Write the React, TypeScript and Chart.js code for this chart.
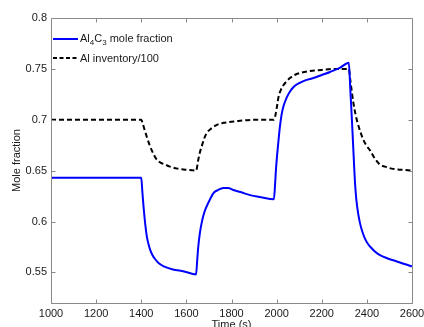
import React, { useEffect, useRef } from "react";
import { Chart, registerables } from "chart.js";

Chart.register(...registerables);

// Al4C3 mole fraction (blue solid)
const blueTimes = [
  1000, 1400, 1405, 1410, 1415, 1420, 1425, 1432, 1440, 1450, 1462, 1478, 1500, 1540, 1590, 1643,
  1648, 1653, 1660, 1668, 1678, 1690, 1705, 1720, 1740, 1764, 1785, 1808, 1840, 1882, 1930, 1988,
  1993, 1997, 2002, 2008, 2015, 2022, 2030, 2045, 2060, 2074, 2100, 2130, 2163, 2200, 2237, 2280, 2320,
  2327, 2333, 2338, 2343, 2348, 2354, 2362, 2370, 2380, 2392, 2405, 2420, 2438, 2458, 2490, 2530, 2570, 2600,
];
const blueValues = [
  0.643, 0.643, 0.629, 0.615, 0.603, 0.593, 0.585, 0.578, 0.572, 0.567, 0.563, 0.559, 0.556, 0.553, 0.551, 0.548,
  0.562, 0.576, 0.589, 0.599, 0.608, 0.615, 0.622, 0.628, 0.631, 0.633, 0.633, 0.631, 0.629, 0.626, 0.624, 0.622,
  0.636, 0.651, 0.665, 0.679, 0.694, 0.705, 0.713, 0.722, 0.728, 0.732, 0.736, 0.739, 0.741, 0.744, 0.747, 0.751, 0.756,
  0.728, 0.703, 0.680, 0.657, 0.636, 0.620, 0.607, 0.598, 0.590, 0.583, 0.578, 0.574, 0.570, 0.567, 0.564, 0.561, 0.558, 0.556,
];

// Al inventory/100 (black dashed)
const blackTimes = [
  1000, 1400, 1407, 1415, 1425, 1439, 1453, 1468, 1485, 1505, 1527, 1560, 1600, 1643,
  1653, 1660, 1668, 1678, 1690, 1708, 1727, 1745, 1764, 1800, 1838, 1900, 1988,
  1997, 2003, 2008, 2018, 2030, 2045, 2059, 2080, 2104, 2148, 2200, 2260, 2320,
  2326, 2333, 2340, 2350, 2360, 2370, 2385, 2400, 2414, 2435, 2458, 2480, 2510, 2550, 2600,
];
const blackValues = [
  0.700, 0.700, 0.696, 0.690, 0.683, 0.674, 0.667, 0.661, 0.658, 0.656, 0.654, 0.652, 0.651, 0.650,
  0.661, 0.668, 0.674, 0.681, 0.687, 0.691, 0.694, 0.696, 0.697, 0.698, 0.699, 0.700, 0.700,
  0.707, 0.715, 0.722, 0.729, 0.734, 0.738, 0.741, 0.744, 0.746, 0.748, 0.749, 0.750, 0.750,
  0.740, 0.728, 0.717, 0.705, 0.696, 0.689, 0.680, 0.674, 0.670, 0.662, 0.656, 0.654, 0.652, 0.651, 0.650,
];

const xTicks = [1000, 1200, 1400, 1600, 1800, 2000, 2200, 2400, 2600];
const yTicks = [0.55, 0.6, 0.65, 0.7, 0.75, 0.8];

const FONT = "'Liberation Sans', Arial, Helvetica, sans-serif";
const CANVAS_W = 424;
const CANVAS_H = 336;

const boxPlugin = {
  id: "matlabBox",
  afterDraw(chart: any) {
    const { ctx, chartArea: a, scales } = chart;
    const L = Math.round(a.left) + 0.5;
    const R = Math.round(a.right) + 0.5;
    const T = Math.round(a.top) + 0.5;
    const B = Math.round(a.bottom) + 0.5;
    ctx.save();
    ctx.strokeStyle = "#8a8a8a";
    ctx.lineWidth = 1;
    ctx.setLineDash([]);
    ctx.beginPath();
    ctx.rect(L, T, R - L, B - T);
    const tl = 4;
    xTicks.forEach((v) => {
      const px = Math.round(scales.x.getPixelForValue(v)) + 0.5;
      ctx.moveTo(px, B);
      ctx.lineTo(px, B - tl);
      ctx.moveTo(px, T);
      ctx.lineTo(px, T + tl);
    });
    yTicks.forEach((v) => {
      const py = Math.round(scales.y.getPixelForValue(v)) + 0.5;
      ctx.moveTo(L, py);
      ctx.lineTo(L + tl, py);
      ctx.moveTo(R, py);
      ctx.lineTo(R - tl, py);
    });
    ctx.stroke();

    // legend
    const lx0 = a.left + 2;
    const lx1 = a.left + 27;
    const tx = a.left + 29;
    const y1 = a.top + 21;
    const y2 = a.top + 40;
    ctx.lineWidth = 2;
    ctx.strokeStyle = "#0000ff";
    ctx.beginPath();
    ctx.moveTo(lx0, y1);
    ctx.lineTo(lx1, y1);
    ctx.stroke();
    ctx.strokeStyle = "#000000";
    ctx.setLineDash([4, 2.5]);
    ctx.beginPath();
    ctx.moveTo(lx0, y2);
    ctx.lineTo(lx1, y2);
    ctx.stroke();
    ctx.setLineDash([]);

    ctx.fillStyle = "#1a1a1a";
    ctx.textBaseline = "alphabetic";
    ctx.textAlign = "left";
    const base1 = y1 + 3;
    const parts: [string, boolean][] = [
      ["Al", false],
      ["4", true],
      ["C", false],
      ["3", true],
      [" mole fraction", false],
    ];
    let x = tx;
    parts.forEach(([s, sub]) => {
      ctx.font = sub ? `8px ${FONT}` : `11px ${FONT}`;
      ctx.fillText(s, x, sub ? base1 + 3 : base1);
      x += ctx.measureText(s).width;
    });
    ctx.font = `11px ${FONT}`;
    ctx.fillText("Al inventory/100", tx, y2 + 4);
    ctx.restore();
  },
};

export default function App() {
  const ref = useRef<HTMLCanvasElement | null>(null);

  useEffect(() => {
    if (!ref.current) return;
    const chart = new Chart(ref.current, {
      type: "line",
      data: {
        datasets: [
          {
            label: "Al4C3 mole fraction",
            data: blueTimes.map((t, i) => ({ x: t, y: blueValues[i] })),
            borderColor: "#0000ff",
            borderWidth: 2,
            pointRadius: 0,
            cubicInterpolationMode: "monotone",
            fill: false,
          },
          {
            label: "Al inventory/100",
            data: blackTimes.map((t, i) => ({ x: t, y: blackValues[i] })),
            borderColor: "#000000",
            borderWidth: 2,
            borderDash: [5, 3],
            pointRadius: 0,
            cubicInterpolationMode: "monotone",
            fill: false,
          },
        ],
      },
      options: {
        animation: false,
        responsive: false,
        devicePixelRatio: 1,
        layout: { padding: { left: 0, top: 18, right: 12, bottom: 0 } },
        plugins: {
          legend: { display: false },
          tooltip: { enabled: false },
        },
        scales: {
          x: {
            type: "linear",
            min: 1000,
            max: 2600,
            grid: { display: false, drawTicks: false },
            border: { display: false },
            afterBuildTicks: (s: any) => {
              s.ticks = xTicks.map((v) => ({ value: v }));
            },
            afterFit: (s: any) => {
              s.height = CANVAS_H - 303;
              s.paddingLeft = 0;
              s.paddingRight = 0;
            },
            ticks: {
              padding: 4,
              color: "#1a1a1a",
              font: { family: FONT, size: 11 },
              maxRotation: 0,
              autoSkip: false,
              callback: (v: any) => String(v),
            },
            title: {
              display: true,
              text: "Time (s)",
              color: "#1a1a1a",
              font: { family: FONT, size: 11 },
              padding: { top: 0, bottom: 4 },
            },
          },
          y: {
            type: "linear",
            min: 0.52,
            max: 0.8,
            grid: { display: false, drawTicks: false },
            border: { display: false },
            afterBuildTicks: (s: any) => {
              s.ticks = yTicks.map((v) => ({ value: v }));
            },
            afterFit: (s: any) => {
              s.width = 51;
              s.paddingTop = 0;
              s.paddingBottom = 0;
            },
            ticks: {
              padding: 4,
              color: "#1a1a1a",
              font: { family: FONT, size: 11 },
              autoSkip: false,
              callback: (v: any) => String(Math.round(v * 100) / 100),
            },
            title: {
              display: true,
              text: "Mole fraction",
              color: "#1a1a1a",
              font: { family: FONT, size: 11 },
              padding: { top: 10, bottom: 0 },
            },
          },
        },
      },
      plugins: [boxPlugin],
    });
    return () => chart.destroy();
  }, []);

  return (
    <div
      style={{
        position: "fixed",
        left: 0,
        top: 0,
        width: 424,
        height: 327,
        overflow: "hidden",
        background: "#ffffff",
      }}
    >
      <canvas ref={ref} width={CANVAS_W} height={CANVAS_H} style={{ display: "block" }} />
    </div>
  );
}
